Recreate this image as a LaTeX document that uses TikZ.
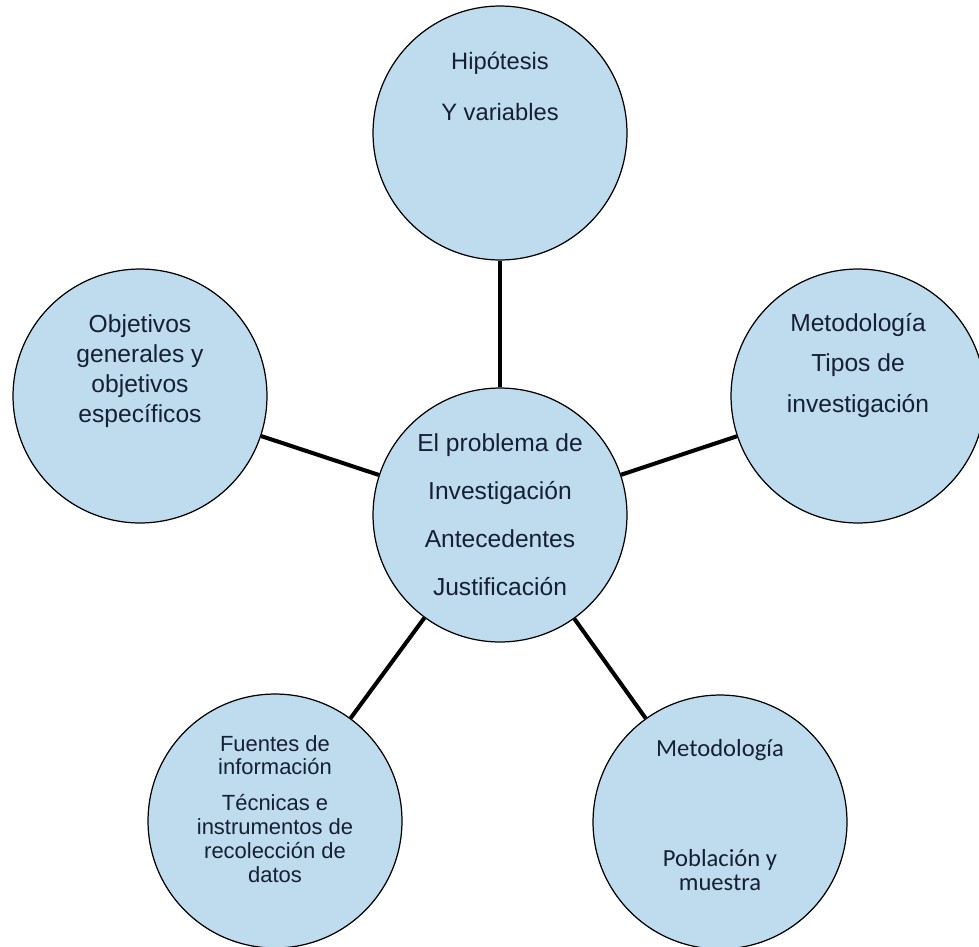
\documentclass[tikz,border=0pt]{standalone}
\usepackage{fontspec}
\setmainfont{Liberation Sans}
\newfontfamily\calibri{Carlito}
\usetikzlibrary{positioning}
\definecolor{burbuja}{RGB}{190,220,238}
\definecolor{tinta}{RGB}{22,32,52}
\tikzset{
  burbuja/.style={circle, draw=black, line width=0.7pt, fill=burbuja,
    minimum size=5.08cm, inner sep=0pt},
  enlace/.style={line width=2.3pt, black},
  texto/.style={align=center, text=tinta, inner sep=0pt, anchor=base},
}

\begin{document}
\begin{tikzpicture}[x=0.02cm, y=-0.02cm]
  \useasboundingbox (0,0) rectangle (979,946);
  % circulos
  \node[burbuja] (problema) at (500,515) {};
  \node[burbuja] (hipotesis) at (500,133) {};
  \node[burbuja] (objetivos) at (140,396) {};
  \node[burbuja] (tipos) at (858,396) {};
  \node[burbuja] (fuentes) at (275,821) {};
  \node[burbuja] (poblacion) at (720,822) {};
  % enlaces
  \draw[enlace] (problema) -- (hipotesis);
  \draw[enlace] (problema) -- (objetivos);
  \draw[enlace] (problema) -- (tipos);
  \draw[enlace] (problema) -- (fuentes);
  \draw[enlace] (problema) -- (poblacion);
  % textos
  \node[texto, font=\fontsize{14}{27.3}\selectfont] (problema-t) at (500,595)
    {El problema de\\Investigación\\Antecedentes\\Justificación};
  \node[texto, font=\fontsize{13.5}{16.5}\selectfont] (hipotesis-t) at (500,120)
    {Hipótesis\\[12pt]Y variables};
  \node[texto, font=\fontsize{14}{17}\selectfont] (objetivos-t) at (140,422)
    {Objetivos\\generales y\\objetivos\\específicos};
  \node[texto, font=\fontsize{14}{22.8}\selectfont] (tipos-t) at (858,412)
    {Metodología\\Tipos de\\investigación};
  \node[texto, font=\fontsize{12.5}{13.5}\selectfont] (fuentes-t) at (275,882)
    {Fuentes de\\información\\[7pt]Técnicas e\\instrumentos de\\recolección de\\datos};
  \node[texto, font=\calibri\fontsize{14}{13.5}\selectfont] (poblacion-t) at (720,890)
    {Metodología\\[49pt]Población y\\muestra};
\end{tikzpicture}
\end{document}
